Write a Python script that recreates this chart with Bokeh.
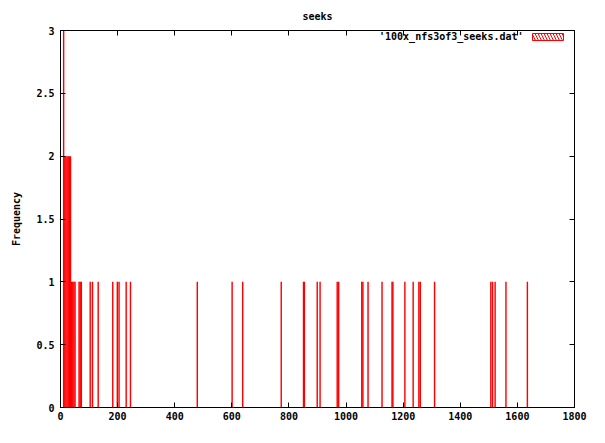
from bokeh.plotting import figure
from bokeh.models import (LinearAxis, Range1d, FixedTicker, Label, BoxAnnotation,
                          ColumnDataSource)
from bokeh.embed import file_html
from bokeh.resources import INLINE

# seek-distance bins (bin centres) and their frequencies
seek_bins = [11,
             15, 19, 23, 27, 31, 35,
             39, 43, 47, 51,
             65, 69, 73, 104, 112, 132, 183, 199, 205, 230, 245,
             479, 601, 638, 773, 851, 854, 899, 909, 969, 974,
             1055, 1059, 1077, 1126, 1161, 1164, 1206, 1235, 1255, 1260,
             1310, 1507, 1513, 1522, 1560, 1635]
frequency = [3,
             2, 2, 2, 2, 2, 2,
             1, 1, 1, 1,
             1, 1, 1, 1, 1, 1, 1, 1, 1, 1, 1,
             1, 1, 1, 1, 1, 1, 1, 1, 1, 1,
             1, 1, 1, 1, 1, 1, 1, 1, 1, 1,
             1, 1, 1, 1, 1, 1]
x_ticks = [0, 200, 400, 600, 800, 1000, 1200, 1400, 1600, 1800]
y_ticks = [0, 0.5, 1, 1.5, 2, 2.5, 3]
series_name = "'100x_nfs3of3_seeks.dat'"
title_text = "seeks"
y_label = "Frequency"

BIN_WIDTH = 5
FONT = "DejaVu Sans Mono"

p = figure(width=589, height=427, output_backend="svg", toolbar_location=None,
           x_range=Range1d(0, 1800), y_range=Range1d(0, 3),
           min_border_left=60, min_border_right=15, min_border_top=30, min_border_bottom=20)
p.title.text = title_text
p.title.align = "center"
p.title.vertical_align = "top"
p.title.text_font = FONT
p.title.text_font_size = "10px"
p.title.text_font_style = "bold"
p.title.text_color = "black"
p.title.standoff = 14

src = ColumnDataSource(dict(x=seek_bins, top=frequency))
p.vbar(x="x", top="top", bottom=0, width=BIN_WIDTH, source=src,
       fill_color="#ff0000", line_color=None)

p.grid.visible = False
p.outline_line_color = "black"
p.outline_line_width = 1
p.background_fill_color = "white"
p.border_fill_color = "white"

for ax in (p.xaxis[0], p.yaxis[0]):
    ax.major_label_text_font = FONT
    ax.major_label_text_font_size = "10px"
    ax.major_label_text_font_style = "bold"
    ax.major_label_text_color = "black"
    ax.major_tick_in = 5
    ax.major_tick_out = 0
    ax.minor_tick_in = 0
    ax.minor_tick_out = 0
    ax.axis_line_color = "black"
    ax.major_tick_line_color = "black"

p.xaxis[0].ticker = FixedTicker(ticks=x_ticks)
p.xaxis[0].major_label_standoff = 4
p.yaxis[0].ticker = FixedTicker(ticks=y_ticks)
p.yaxis[0].major_label_standoff = 6
p.yaxis[0].axis_label = y_label
p.yaxis[0].axis_label_text_font = FONT
p.yaxis[0].axis_label_text_font_size = "10px"
p.yaxis[0].axis_label_text_font_style = "bold"
p.yaxis[0].axis_label_text_color = "black"
p.yaxis[0].axis_label_standoff = 11

top_ax = LinearAxis(ticker=FixedTicker(ticks=x_ticks),
                    major_label_overrides={t: "" for t in x_ticks},
                    major_tick_in=5, major_tick_out=0, minor_tick_in=0, minor_tick_out=0,
                    major_label_standoff=0, axis_line_color=None)
right_ax = LinearAxis(ticker=FixedTicker(ticks=y_ticks),
                      major_label_overrides={t: "" for t in y_ticks},
                      major_tick_in=5, major_tick_out=0, minor_tick_in=0, minor_tick_out=0,
                      major_label_standoff=0, axis_line_color=None)
p.add_layout(top_ax, "above")
p.add_layout(right_ax, "right")

# legend (gnuplot style: text then hatched swatch), frame-relative screen units
p.add_layout(Label(x=463, y=371, x_units="screen", y_units="screen", text=series_name,
                   text_align="right", text_baseline="middle", text_font=FONT,
                   text_font_size="10px", text_font_style="bold", text_color="black"))
p.add_layout(BoxAnnotation(left=472, right=503, bottom=367, top=374,
                           left_units="screen", right_units="screen",
                           bottom_units="screen", top_units="screen",
                           fill_color="white", fill_alpha=1, line_color="#ff0000",
                           line_width=1, line_alpha=1,
                           hatch_pattern="\\", hatch_color="#ff0000", hatch_scale=6,
                           hatch_weight=1))

open("out.html", "w").write(file_html(p, INLINE))
